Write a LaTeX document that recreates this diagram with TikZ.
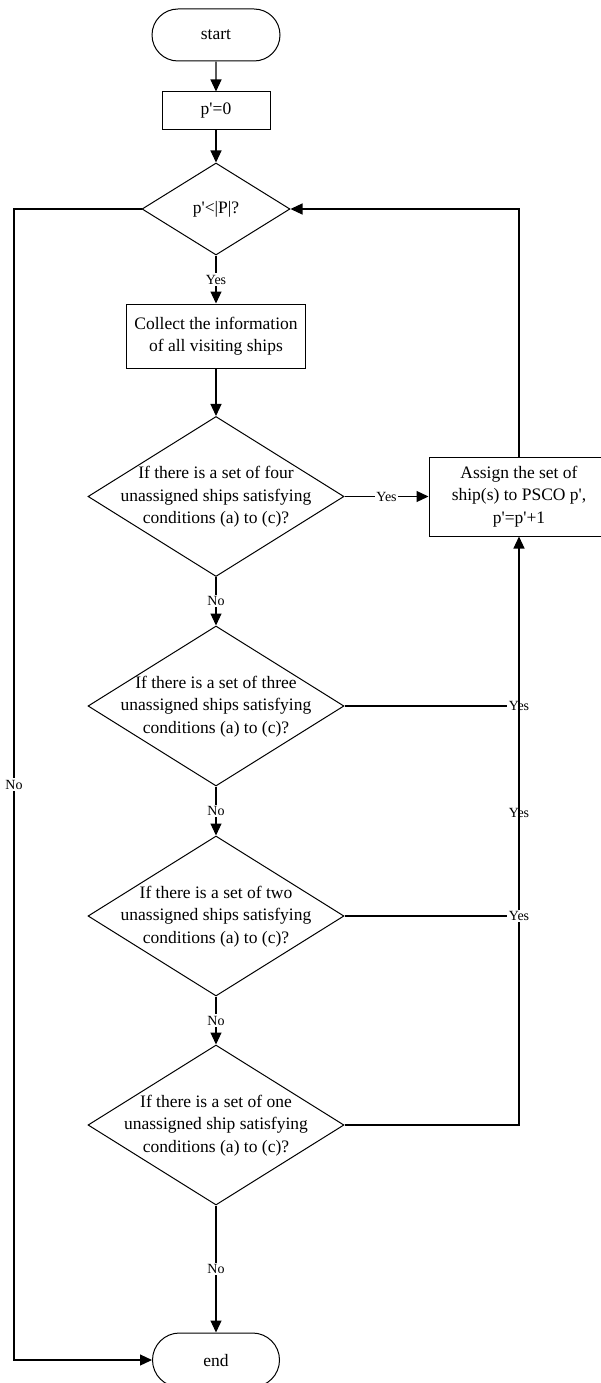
\documentclass[tikz,border=0pt]{standalone}
\usepackage{fontspec}
\setmainfont{Liberation Serif}
\usetikzlibrary{shapes.geometric,shapes.misc,arrows.meta}
\newcommand{\zbox}[1]{\makebox[0pt]{\smash{\raisebox{-0.25em}{\begin{tabular}{@{}c@{}}#1\end{tabular}}}}}
\newcommand{\pq}{\textquotesingle}
\begin{document}
\begin{tikzpicture}[x=1pt,y=-1pt,
  base/.style={draw, line width=1pt, font=\fontsize{17.5}{22.5}\selectfont, inner sep=0pt},
  term/.style={base, rounded rectangle, minimum width=128pt, minimum height=52pt},
  proc/.style={base, rectangle, align=center},
  dec/.style={base, diamond, minimum width=256pt, minimum height=160pt},
  arr/.style={-{Triangle[length=12pt,width=11pt]}, line width=1.2pt},
  conn/.style={line width=1.2pt},
  lab/.style={font=\fontsize{14}{16}\selectfont, fill=white, inner sep=1.5pt}]
\useasboundingbox (0,0) rectangle (600,1383);
\fill[white] (0,0) rectangle (600,1383);

\node[term] (start) at (216,35) {start};
\node[proc, minimum width=108pt, minimum height=38pt] (p0) at (216,111) {p\pq=0};
\node[base, diamond, minimum width=148pt, minimum height=92pt] (d1) at (216,209) {\zbox{p\pq<|P|?}};
\node[proc, minimum width=179pt, minimum height=64pt] (collect) at (216,336) {Collect the information\\of all visiting ships};
\node[dec] (d2) at (216,496.5) {\zbox{If there is a set of four\\unassigned ships satisfying\\conditions (a) to (c)?}};
\node[dec] (d3) at (216,706) {\zbox{If there is a set of three\\unassigned ships satisfying\\conditions (a) to (c)?}};
\node[dec] (d4) at (216,916) {\zbox{If there is a set of two\\unassigned ships satisfying\\conditions (a) to (c)?}};
\node[dec] (d5) at (216,1125) {\zbox{If there is a set of one\\unassigned ship satisfying\\conditions (a) to (c)?}};
\node[term, minimum width=127pt, minimum height=54pt] (end) at (216,1360) {end};
\node[proc, minimum width=180pt, minimum height=79pt] (assign) at (519,496.5) {Assign the set of\\ship(s) to PSCO p\pq,\\p\pq=p\pq+1};
\coordinate (lc) at (14,209);

\draw[arr] (start) -- (p0);
\draw[arr] (p0) -- (d1);
\draw[arr] (d1) -- node[lab]{Yes} (collect);
\draw[arr] (collect) -- (d2);
\draw[arr] (d2) -- node[lab]{No} (d3);
\draw[arr] (d3) -- node[lab]{No} (d4);
\draw[arr] (d4) -- node[lab]{No} (d5);
\draw[arr] (d5) -- node[lab]{No} (end);
\draw[arr] (d2) -- node[lab]{Yes} (assign);
\draw[arr] (assign.north) |- (d1.east);
\draw[conn] (d3.east) -- node[lab,pos=1]{Yes} (d3.east -| assign.south);
\draw[arr] (d5.east) -| node[lab, fill=none, pos=0.765]{Yes} (assign.south);
\draw[conn] (d4.east) -- node[lab,pos=1]{Yes} (d4.east -| assign.south);
\draw[arr] (d1.west) -- (lc) |- node[lab,pos=0.25]{No} (end.west);
\end{tikzpicture}
\end{document}
